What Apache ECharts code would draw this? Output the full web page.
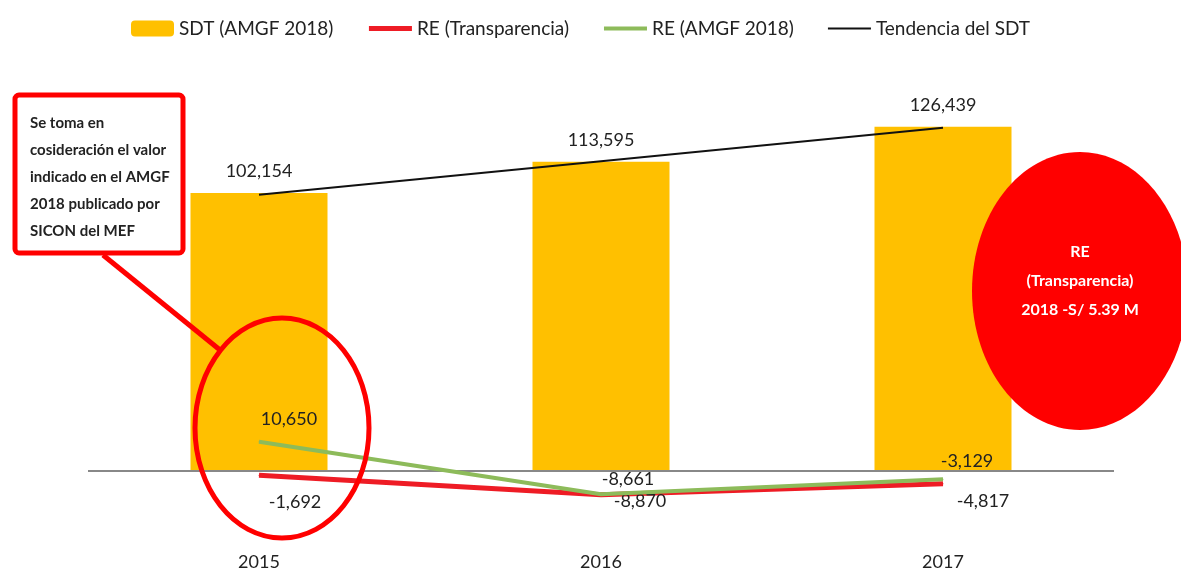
<!DOCTYPE html>
<html lang="es" style="height: 100%">
<head>
  <meta charset="utf-8">
</head>
<body style="height: 100%; margin: 0; background: #fff">
  <div id="container" style="height: 100%"></div>

  <script type="text/javascript" src="https://cdn.jsdelivr.net/npm/echarts@6/dist/echarts.min.js"></script>

  <script type="text/javascript">
    var dom = document.getElementById('container');
    var myChart = echarts.init(dom, null, { renderer: 'canvas' });

    // datos
    const years = ['2015', '2016', '2017'];
    const sdtAmgf = [102154, 113595, 126439];
    const reTransparencia = [-1692, -8870, -4817];
    const reAmgf = [10650, -8661, -3129];
    const tendenciaSdt = [101500, 113800, 126100];

    // desplazamiento de etiquetas (solo estilo)
    const redOffsets = [[36, 12], [39, -8], [40, 3]];
    const greenOffsets = [[30, -8], [27, 0], [24, -3]];

    const FONT = 'Lato, sans-serif';
    const RED = '#EE1C25';
    const GREEN = '#8DBB5A';
    const fmt = function (p) {
      return p.value.toLocaleString('en-US');
    };

    var option = {
      backgroundColor: '#fff',
      textStyle: { fontFamily: FONT },
      legend: {
        top: 19,
        left: 131,
        padding: 0,
        itemWidth: 43,
        itemHeight: 16,
        itemGap: 33,
        textStyle: { fontSize: 19, color: '#222', fontFamily: FONT },
        data: [
          { name: 'SDT (AMGF 2018)' },
          { name: 'RE (Transparencia)', itemStyle: { opacity: 0 }, lineStyle: { width: 5 } },
          { name: 'RE (AMGF 2018)', itemStyle: { opacity: 0 }, lineStyle: { width: 4 } },
          { name: 'Tendencia del SDT', itemStyle: { opacity: 0 }, lineStyle: { width: 2 } }
        ]
      },
      grid: { left: 88, right: 67, top: 90, bottom: 51 },
      xAxis: {
        type: 'category',
        data: years,
        axisLine: { show: false, onZero: false },
        axisTick: { show: false },
        axisLabel: { fontSize: 18, color: '#222', margin: 28, fontFamily: FONT }
      },
      yAxis: {
        type: 'value',
        min: -20000,
        max: 140000,
        show: false,
        splitLine: { show: false }
      },
      series: [
        {
          name: 'SDT (AMGF 2018)',
          type: 'bar',
          barWidth: 137,
          itemStyle: { color: '#FFC000' },
          label: {
            show: true,
            position: 'top',
            distance: 13,
            fontSize: 18,
            color: '#222',
            fontFamily: FONT,
            formatter: fmt
          },
          markLine: {
            silent: true,
            symbol: 'none',
            label: { show: false },
            lineStyle: { color: '#888', width: 2, type: 'solid' },
            data: [{ yAxis: 0 }]
          },
          data: sdtAmgf
        },
        {
          name: 'RE (Transparencia)',
          type: 'line',
          symbol: 'circle',
          symbolSize: 1,
          z: 4,
          lineStyle: { color: RED, width: 5 },
          itemStyle: { color: RED },
          label: {
            show: true,
            position: 'bottom',
            fontSize: 18,
            color: '#222',
            fontFamily: FONT,
            formatter: fmt
          },
          data: reTransparencia.map(function (v, i) {
            return { value: v, label: { offset: redOffsets[i] } };
          })
        },
        {
          name: 'RE (AMGF 2018)',
          type: 'line',
          symbol: 'circle',
          symbolSize: 1,
          z: 5,
          lineStyle: { color: GREEN, width: 4 },
          itemStyle: { color: GREEN },
          label: {
            show: true,
            position: 'top',
            fontSize: 18,
            color: '#222',
            fontFamily: FONT,
            formatter: fmt
          },
          data: reAmgf.map(function (v, i) {
            return { value: v, label: { offset: greenOffsets[i] } };
          })
        },
        {
          name: 'Tendencia del SDT',
          type: 'line',
          symbol: 'none',
          z: 6,
          lineStyle: { color: '#111', width: 2 },
          itemStyle: { color: '#111' },
          data: tendenciaSdt
        }
      ],
      graphic: [
        {
          type: 'rect',
          z: 100,
          shape: { x: 15, y: 95, width: 168, height: 158, r: 4 },
          style: { fill: '#fff', stroke: '#FF0000', lineWidth: 5 }
        },
        {
          type: 'text',
          z: 101,
          left: 30,
          top: 110,
          style: {
            text: 'Se toma en\ncosideración el valor\nindicado en el AMGF\n2018 publicado por\nSICON del MEF',
            font: 'bold 15px Lato, sans-serif',
            lineHeight: 27,
            fill: '#222'
          }
        },
        {
          type: 'line',
          z: 100,
          shape: { x1: 103, y1: 255, x2: 220, y2: 350 },
          style: { stroke: '#FF0000', lineWidth: 5 }
        },
        {
          type: 'ellipse',
          z: 100,
          shape: { cx: 282, cy: 428, rx: 87, ry: 110 },
          style: { fill: null, stroke: '#FF0000', lineWidth: 5 }
        },
        {
          type: 'ellipse',
          z: 100,
          shape: { cx: 1080, cy: 291, rx: 108, ry: 139 },
          style: { fill: '#FF0000' }
        },
        {
          type: 'text',
          z: 101,
          x: 1080,
          y: 281,
          style: {
            text: 'RE\n(Transparencia)\n2018 -S/ 5.39 M',
            font: 'bold 16px Lato, sans-serif',
            lineHeight: 29,
            fill: '#fff',
            align: 'center',
            verticalAlign: 'middle'
          }
        }
      ]
    };

    myChart.setOption(option);
    window.addEventListener('resize', myChart.resize);
  </script>
</body>
</html>
